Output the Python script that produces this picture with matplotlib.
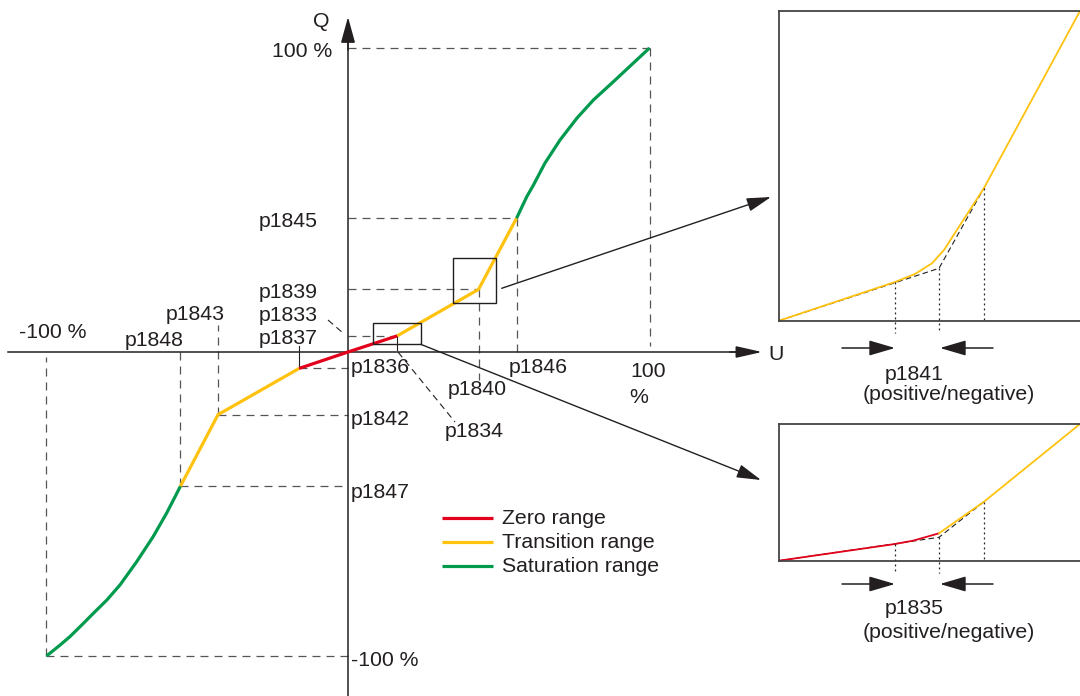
import numpy as np
import matplotlib
matplotlib.use('Agg')
import matplotlib.pyplot as plt
from matplotlib.patches import Rectangle

plt.rcParams['font.family'] = ['Liberation Sans', 'DejaVu Sans']

# characteristic curve, U and Q in %
zero_u = [-16.2, 0, 16.3]
zero_q = [-5.4, 0, 5.3]
trans_pos_u = [16.3, 43.3, 55.9]
trans_pos_q = [5.3, 20.6, 44.0]
trans_neg_u = [-16.2, -43.1, -55.6]
trans_neg_q = [-5.4, -20.6, -44.2]
sat_pos_u = [55.9, 59.3, 61.5, 65.3, 70.3, 75.9, 81.4, 88.0, 100]
sat_pos_q = [44.0, 51.1, 54.9, 62.1, 69.7, 76.9, 82.9, 88.9, 100]
sat_neg_u = [-55.6, -60.1, -64.6, -70.1, -75.6, -80.0, -84.5, -88.3, -92.2, -95.5, -100]
sat_neg_q = [-44.2, -52.9, -60.7, -69.0, -76.6, -81.6, -86.0, -89.8, -93.6, -96.4, -100]

# zoom views (local units)
zoom1_u = [0, 116, 136, 153, 165, 205, 301]
zoom1_q = [0, 38.7, 46.7, 57.4, 70.7, 132.7, 309.7]
zoom1_ideal_u = [0, 160, 205]
zoom1_ideal_q = [0, 52.4, 132.7]
zoom2_red_u = [0, 116, 134, 160]
zoom2_red_q = [0, 16.7, 20, 27.4]
zoom2_yel_u = [160, 205, 301]
zoom2_yel_q = [27.4, 59, 136.7]
zoom2_ideal_u = [0, 160, 205]
zoom2_ideal_q = [0, 23.4, 59]

RED = '#e2001a'
YEL = '#ffc20e'
GRN = '#009a4e'
TXT = '#231f20'
DASH = '#555555'
FS = 15.3

W, H = 1080, 696
OX, OY, SX, SY = 348, 352, 3.015, 3.04


def px(x, y):
    return (x - OX) / SX, (OY - y) / SY


fig = plt.figure(figsize=(W / 100, H / 100), dpi=100)
ax = fig.add_axes([0, 0, 1, 1])
ax.set_xlim(-OX / SX, (W - OX) / SX)
ax.set_ylim((OY - H) / SY, OY / SY)
ax.axis('off')

dash = dict(color=DASH, lw=0.9, ls=(0, (6.4, 4.8)))

# reference lines
for u, q in [(100, 100), (sat_pos_u[0], sat_pos_q[0]), (trans_pos_u[1], trans_pos_q[1]),
             (zero_u[-1], zero_q[-1])]:
    ax.plot([0, u], [q, q], **dash)
for u, q in [(-100, -100), (sat_neg_u[0], sat_neg_q[0]), (trans_neg_u[1], trans_neg_q[1]),
             (zero_u[0], zero_q[0])]:
    ax.plot([u, 0], [q, q], **dash)
ax.plot([100, 100], [100, px(0, 346)[1]], **dash)
ax.plot([sat_pos_u[0]] * 2, [sat_pos_q[0], 0], **dash)
ax.plot([trans_pos_u[1]] * 2, [trans_pos_q[1], px(0, 380)[1]], **dash)
ax.plot([-100, -100], [-100, px(0, 357)[1]], **dash)
ax.plot([sat_neg_u[0]] * 2, [sat_neg_q[0], 0], **dash)
ax.plot([trans_neg_u[1]] * 2, [trans_neg_q[1], px(0, 325)[1]], **dash)

# leaders
ax.plot([zero_u[0]] * 2, [zero_q[0], px(0, 346)[1]], color=TXT, lw=0.8)
ax.plot([zero_u[-1]] * 2, [zero_q[-1], px(0, 350)[1]], color=TXT, lw=0.8)
a, b = px(398, 352), px(455, 422)
ax.plot([a[0], b[0]], [a[1], b[1]], color=TXT, lw=0.8, ls=(0, (6, 4)))
a, b = px(328, 320), px(343, 333)
ax.plot([a[0], b[0]], [a[1], b[1]], color=TXT, lw=0.8, ls=(0, (6, 4)))

# axes with arrows
ax.plot([px(8, 0)[0], px(745, 0)[0]], [0, 0], color=TXT, lw=1.1)
ax.annotate('', xy=px(762, 352), xytext=px(730, 352),
            arrowprops=dict(arrowstyle='-|>,head_length=16,head_width=3.6', mutation_scale=1,
                            color=TXT, lw=1.1, shrinkA=0, shrinkB=0))
ax.plot([0, 0], [px(0, 696)[1], px(0, 40)[1]], color=TXT, lw=1.1)
ax.annotate('', xy=px(348, 17), xytext=px(348, 50),
            arrowprops=dict(arrowstyle='-|>,head_length=16,head_width=4.4', mutation_scale=1,
                            color=TXT, lw=1.1, shrinkA=0, shrinkB=0))

# curve
ax.plot(trans_pos_u, trans_pos_q, color=YEL, lw=2.3, solid_capstyle='butt')
ax.plot(trans_neg_u, trans_neg_q, color=YEL, lw=2.3, solid_capstyle='butt')
ax.plot(sat_pos_u, sat_pos_q, color=GRN, lw=2.3, solid_capstyle='butt')
ax.plot(sat_neg_u, sat_neg_q, color=GRN, lw=2.3, solid_capstyle='butt')
ax.plot(zero_u, zero_q, color=RED, lw=2.3, solid_capstyle='butt')

# zoom boxes and connectors
for (x0, y0, x1, y1) in [(453, 258, 496, 303), (372.7, 322.7, 420.7, 344.3)]:
    p0, p1 = px(x0, y1), px(x1, y0)
    ax.add_patch(Rectangle(p0, p1[0] - p0[0], p1[1] - p0[1], fill=False,
                           ec=TXT, lw=1.0, zorder=4))
for tail, tip in [((501.7, 288.3), (771, 197)), ((420.7, 344.3), (761, 480))]:
    ax.annotate('', xy=px(*tip), xytext=px(*tail),
                arrowprops=dict(arrowstyle='-|>,head_length=15,head_width=4.2', mutation_scale=1,
                                color=TXT, lw=1.0, shrinkA=0, shrinkB=0))

# labels
labels = [
    ('Q', 321, 22, 'center'), ('100 %', 332, 52, 'right'),
    ('p1845', 318, 222, 'right'), ('p1839', 318, 293, 'right'),
    ('p1833', 318, 316, 'right'), ('p1837', 318, 339, 'right'),
    ('p1843', 195, 315, 'center'), ('p1848', 154, 341, 'center'),
    ('-100 %', 53, 333, 'center'), ('p1836', 351, 368, 'left'),
    ('p1840', 477, 390, 'center'), ('p1834', 474, 432, 'center'),
    ('p1842', 351, 420, 'left'), ('p1846', 509, 368, 'left'),
    ('100', 648, 372, 'center'), ('%', 639, 398, 'center'),
    ('U', 776, 355, 'center'), ('p1847', 351, 492, 'left'),
    ('-100 %', 351, 660, 'left'),
    ('p1841', 914.5, 375, 'center'), ('(positive/negative)', 949, 395, 'center'),
    ('p1835', 914.5, 609, 'center'), ('(positive/negative)', 949, 632, 'center'),
]
for s, x, y, ha in labels:
    ax.text(*px(x, y), s, ha=ha, va='center', fontsize=FS, color=TXT)

# legend
for name, col, y in [('Zero range', RED, 518), ('Transition range', YEL, 542),
                     ('Saturation range', GRN, 566)]:
    a, b = px(442, y), px(493, y)
    ax.plot([a[0], b[0]], [a[1], b[1]], color=col, lw=2.3, solid_capstyle='butt')
    ax.text(*px(502, y), name, ha='left', va='center', fontsize=FS, color=TXT)


def inset(top, bottom):
    a = fig.add_axes([779 / W, (H - bottom) / H, 306 / W, (bottom - top) / H])
    a.set_xlim(0, 306)
    a.set_ylim(0, bottom - top)
    a.set_xticks([])
    a.set_yticks([])
    for s in a.spines.values():
        s.set_color('#444444')
        s.set_linewidth(1.3)
    return a


arr = dict(arrowstyle='-|>,head_length=16,head_width=4.7', mutation_scale=1,
           color=TXT, lw=1.1, shrinkA=0, shrinkB=0)
dot = dict(color=TXT, lw=0.9, ls=(0, (1.5, 2.5)), clip_on=False)

a1 = inset(11, 320.7)
a1.plot(zoom1_ideal_u, zoom1_ideal_q, color=TXT, lw=0.8, ls=(0, (5, 3)))
a1.plot(zoom1_u, zoom1_q, color=YEL, lw=1.3)
a1.plot([116, 116], [38.7, -12.6], **dot)
a1.plot([160, 160], [52.4, -12.6], **dot)
a1.plot([205, 205], [132.7, 0], **dot)
a1.annotate('', xy=(116, -27.3), xytext=(63, -27.3), arrowprops=arr, annotation_clip=False)
a1.annotate('', xy=(161, -27.3), xytext=(214, -27.3), arrowprops=arr, annotation_clip=False)

a2 = inset(424, 560.7)
a2.plot(zoom2_ideal_u, zoom2_ideal_q, color=TXT, lw=0.8, ls=(0, (5, 3)))
a2.plot(zoom2_red_u, zoom2_red_q, color=RED, lw=1.3)
a2.plot(zoom2_yel_u, zoom2_yel_q, color=YEL, lw=1.3)
a2.plot([116, 116], [16.7, -12.3], **dot)
a2.plot([160, 160], [23.4, -12.3], **dot)
a2.plot([205, 205], [59, 0], **dot)
a2.annotate('', xy=(116, -23.3), xytext=(63, -23.3), arrowprops=arr, annotation_clip=False)
a2.annotate('', xy=(161, -23.3), xytext=(214, -23.3), arrowprops=arr, annotation_clip=False)

fig.savefig('out.png', dpi=100)
